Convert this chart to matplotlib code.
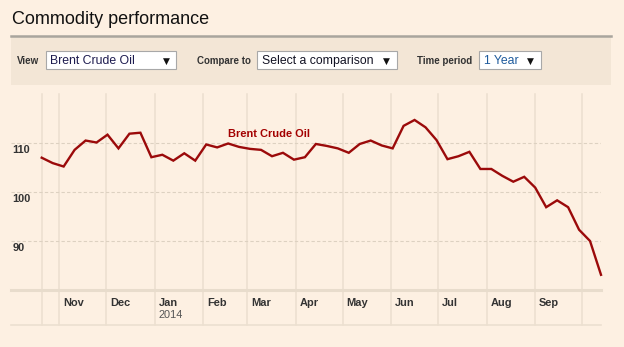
import matplotlib
matplotlib.use("Agg")
import matplotlib.pyplot as plt
import matplotlib.dates as mdates
from matplotlib.patches import Rectangle
from matplotlib.transforms import offset_copy
import numpy as np
import datetime as dt

# ---------------- data ----------------
start_date = dt.date(2013, 10, 21)
n_weeks = 52
dates = [start_date + dt.timedelta(days=7 * i) for i in range(n_weeks)]
prices = [107.0, 105.9, 105.2, 108.6, 110.5, 110.1, 111.7, 108.9, 111.9, 112.1,
          107.1, 107.6, 106.4, 107.9, 106.4, 109.7, 109.1, 109.9, 109.2, 108.8,
          108.6, 107.3, 108.0, 106.6, 107.1, 109.8, 109.4, 108.9, 108.0, 109.8,
          110.5, 109.5, 108.9, 113.5, 114.7, 113.2, 110.6, 106.7, 107.3, 108.2,
          104.7, 104.7, 103.3, 102.1, 103.1, 100.9, 96.9, 98.3, 96.9, 92.3,
          90.0, 83.1]
series_name = "Brent Crude Oil"
y_ticks = [90, 100, 110]
month_starts = [dt.date(2013, 11, 1), dt.date(2013, 12, 1), dt.date(2014, 1, 1),
                dt.date(2014, 2, 1), dt.date(2014, 3, 1), dt.date(2014, 4, 1),
                dt.date(2014, 5, 1), dt.date(2014, 6, 1), dt.date(2014, 7, 1),
                dt.date(2014, 8, 1), dt.date(2014, 9, 1), dt.date(2014, 10, 1)]
month_labels = ["Nov", "Dec", "Jan", "Feb", "Mar", "Apr", "May", "Jun", "Jul",
                "Aug", "Sep", ""]

# ---------------- style ----------------
W, H = 624, 347
BG = "#fdf0e2"
PANEL = "#f3e6d6"
LINE = "#9b0a0a"
GRID_V = "#ebdfcf"
GRID_H = "#ddd1c1"
TXT = "#333333"
FONT = "Liberation Sans"
plt.rcParams["font.family"] = [FONT, "DejaVu Sans"]

fig = plt.figure(figsize=(W / 100, H / 100), dpi=100, facecolor=BG)


def fx(x):
    return x / W


def fy(y):
    return 1 - y / H


# header
fig.text(fx(12), fy(24), "Commodity performance", fontsize=13, color="#111111",
         ha="left", va="baseline")
fig.add_artist(Rectangle((fx(11), fy(84.5)), fx(611) - fx(11), fy(36.5) - fy(84.5),
                         transform=fig.transFigure, facecolor=PANEL, edgecolor="none"))
fig.add_artist(plt.Line2D([fx(11), fx(611)], [fy(35.8), fy(35.8)], color="#a9a59d",
                          lw=1.8, transform=fig.transFigure))


def dropdown(label, lx, bx0, bx1, text, tcolor):
    fig.text(fx(lx), fy(63.5), label, fontsize=7, fontweight="bold", color=TXT,
             ha="left", va="baseline")
    fig.add_artist(Rectangle((fx(bx0), fy(68.5)), fx(bx1) - fx(bx0), fy(51.2) - fy(68.5),
                             transform=fig.transFigure, facecolor="white",
                             edgecolor="#a8a8a8", lw=0.8))
    fig.text(fx(bx0 + 5), fy(64), text, fontsize=8.8, color=tcolor,
             ha="left", va="baseline")
    fig.text(fx(bx1 - 7), fy(63.5), "\u25BC", fontsize=6.5, color="#111111",
             ha="right", va="baseline", family=["DejaVu Sans"])


dropdown("View", 17, 45.5, 176.5, "Brent Crude Oil", "#1d1b4f")
dropdown("Compare to", 197.3, 257.3, 397, "Select a comparison", "#111122")
dropdown("Time period", 417.3, 479.3, 541.3, "1 Year", "#1d5a9c")

# ---------------- chart axes ----------------
ax_l, ax_r, ax_t, ax_b = 11, 601, 94, 290
ax = fig.add_axes([fx(ax_l), fy(ax_b), (ax_r - ax_l) / W, (ax_b - ax_t) / H])
ax.set_facecolor("none")
for s in ax.spines.values():
    s.set_visible(False)

xd = mdates.date2num(dates)
x0 = xd[0] - 19.6
x1 = xd[-1]
ax.set_xlim(x0, x1)
ax.set_ylim(80, 120)
ax.set_xticks([])
ax.set_yticks([])

# horizontal dashed grid
for v in y_ticks:
    ax.axhline(v, color=GRID_H, lw=0.8, ls=(0, (3, 2)), zorder=1)
    ax.text(0.002, v, str(v), transform=offset_copy(ax.get_yaxis_transform(), fig=fig,
                                                      x=0, y=-7, units="dots"),
            fontsize=7.9, fontweight="bold", color=TXT, ha="left", va="center")

# vertical lines (extend below axis)
ext = -(324.5 - ax_b) / (ax_b - ax_t)
vlines = [xd[0]] + list(mdates.date2num(month_starts))
for xv in vlines:
    ax.axvline(xv, ymin=ext, ymax=1.0, color=GRID_V, lw=1.1, zorder=0, clip_on=False)

# axis line and bottom line
ax.axhline(80, color="#e8dccc", lw=2.2, zorder=2, clip_on=False)
ax.plot([0, 1], [ext, ext], transform=ax.transAxes, color="#ece0d0", lw=1.2,
        clip_on=False)

# month labels
lab_tr = offset_copy(ax.get_xaxis_transform(), fig=fig, x=4, y=0, units="dots")
for d, lab in zip(month_starts, month_labels):
    xm = mdates.date2num(d)
    ax.text(xm, -0.04, lab, transform=lab_tr, fontsize=7.9, fontweight="bold",
            color=TXT, ha="left", va="top")
    if lab == "Jan":
        ax.text(xm, -0.10, "2014", transform=lab_tr, fontsize=7.9, color="#555555",
                ha="left", va="top")

# data line
ax.plot(xd, prices, color=LINE, lw=1.7, zorder=5, clip_on=False,
        solid_joinstyle="miter")

# series label
ax.text(mdates.date2num(dt.date(2014, 2, 17)), 111.2, series_name, fontsize=7.9,
        fontweight="bold", color="#a30000", ha="left", va="baseline")

fig.savefig("out.png", dpi=100, facecolor=BG)
